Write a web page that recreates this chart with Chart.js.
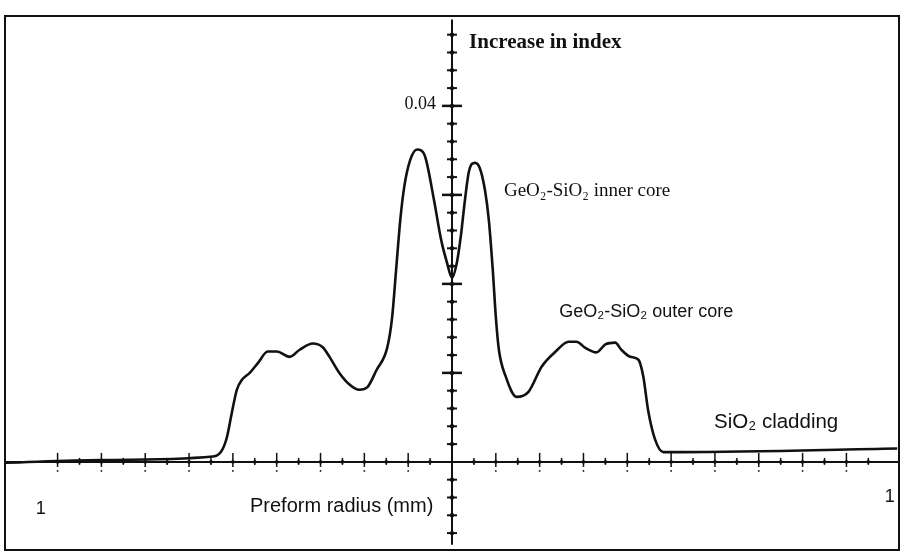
<!DOCTYPE html>
<html>
<head>
<meta charset="utf-8">
<script src="https://cdn.jsdelivr.net/npm/chart.js@4"></script>
<style>
  html, body { margin: 0; padding: 0; background: #fff; }
  #wrap { width: 900px; height: 557px; }
</style>
</head>
<body>
<div id="wrap"><canvas id="myChart"></canvas></div>
<script>
// radius in tick units (one tick on the radius axis), index increase
const radius = [
  -20.36, -16.05, -10.91, -10.5, -10.27, -10.05, -9.82, -9.59, -9.23, -8.86,
  -8.41, -8.0, -7.41, -6.95, -6.36, -5.91, -5.59, -5.14, -4.68, -4.23,
  -3.86, -3.45, -2.95, -2.73, -2.55, -2.36, -2.18, -1.91, -1.59, -1.32,
  -1.18, -0.82, -0.5, -0.23, 0, 0.23, 0.41, 0.59, 0.77, 1.05,
  1.27, 1.5, 1.68, 1.86, 2.0, 2.14, 2.45, 2.95, 3.5, 4.09,
  4.73, 5.32, 5.68, 6.09, 6.59, 7.0, 7.45, 7.73, 8.14, 8.5,
  8.73, 8.95, 9.27, 9.64, 10.45, 20.32
];
const indexIncrease = [
  -0.0001, 0.0002, 0.0006, 0.0013, 0.0028, 0.0055, 0.0081, 0.0092, 0.0100, 0.0111,
  0.0124, 0.0124, 0.0118, 0.0126, 0.0133, 0.0129, 0.0118, 0.0100, 0.0087, 0.0081,
  0.0084, 0.0103, 0.0129, 0.0163, 0.0216, 0.0272, 0.0309, 0.0339, 0.0351, 0.0348,
  0.0339, 0.0294, 0.0250, 0.0224, 0.0207, 0.0225, 0.0255, 0.0294, 0.0326, 0.0336,
  0.0330, 0.0306, 0.0272, 0.0216, 0.0163, 0.0126, 0.0096, 0.0073, 0.0079, 0.0107,
  0.0124, 0.0135, 0.0135, 0.0128, 0.0123, 0.0132, 0.0134, 0.0126, 0.0118, 0.0115,
  0.0096, 0.0058, 0.0025, 0.0011, 0.0011, 0.0015
];

// axis ticks
const yTickStep = 0.002;
const yTickRange = [-0.008, 0.048];
const xTickRange = [-18, 19];
const yTickLabels = ['0.04'];
const yTickLabelValues = [0.04];

const data = radius.map((r, i) => ({ x: r, y: indexIncrease[i] }));

const SERIF = '"Liberation Serif", "DejaVu Serif", serif';
const SANS = '"Liberation Sans", Arial, sans-serif';

const axesPlugin = {
  id: 'figureAxes',
  beforeDatasetsDraw(chart) {
    const { ctx, chartArea: a, scales: { x, y } } = chart;
    ctx.save();
    ctx.strokeStyle = '#111';
    ctx.fillStyle = '#111';

    // frame
    ctx.lineWidth = 2;
    ctx.strokeRect(a.left, a.top, a.right - a.left, a.bottom - a.top);

    const x0 = x.getPixelForValue(0);
    const y0 = y.getPixelForValue(0);

    // axes
    ctx.lineWidth = 2;
    ctx.beginPath();
    ctx.moveTo(x0, y.getPixelForValue(0.0497));
    ctx.lineTo(x0, y.getPixelForValue(-0.0093));
    ctx.stroke();
    ctx.beginPath();
    ctx.moveTo(a.left, y0);
    ctx.lineTo(a.right, y0);
    ctx.stroke();

    // vertical axis ticks
    const nY = Math.round((yTickRange[1] - yTickRange[0]) / yTickStep);
    for (let i = 0; i <= nY; i++) {
      const v = yTickRange[0] + i * yTickStep;
      if (Math.abs(v) < 1e-9) continue;
      const py = y.getPixelForValue(v);
      const major = Math.abs(Math.round(v / 0.01) * 0.01 - v) < 1e-9;
      const w = major ? 10 : 5;
      ctx.lineWidth = major ? 2.5 : 2;
      ctx.beginPath();
      ctx.moveTo(x0 - w, py);
      ctx.lineTo(x0 + w, py);
      ctx.stroke();
      ctx.beginPath();
      ctx.arc(x0, py, 2.2, 0, Math.PI * 2);
      ctx.fill();
    }

    // radius axis ticks
    for (let u = xTickRange[0]; u <= xTickRange[1]; u++) {
      if (u === 0) continue;
      const px = x.getPixelForValue(u);
      const major = u % 2 === 0;
      ctx.lineWidth = 1.5;
      ctx.beginPath();
      ctx.moveTo(px, y0 - (major ? 9 : 4));
      ctx.lineTo(px, y0 + (major ? 5 : 3));
      ctx.stroke();
      ctx.beginPath();
      ctx.arc(px, y0, 1.8, 0, Math.PI * 2);
      ctx.fill();
      if (major) {
        ctx.beginPath();
        ctx.arc(px, y0 + 9, 0.9, 0, Math.PI * 2);
        ctx.fill();
      }
    }
    ctx.restore();
  },
  afterDraw(chart) {
    const { ctx, scales: { x, y } } = chart;
    ctx.save();
    ctx.fillStyle = '#111';
    ctx.textBaseline = 'alphabetic';

    const put = (text, u, v, font, align) => {
      ctx.font = font;
      ctx.textAlign = align || 'left';
      ctx.fillText(text, x.getPixelForValue(u), y.getPixelForValue(v));
    };

    put('Increase in index', 0.78, 0.0465, 'bold 21px ' + SERIF);
    yTickLabels.forEach((t, i) => put(t, -0.73, yTickLabelValues[i] - 0.0004, '18px ' + SERIF, 'right'));
    put('GeO\u2082-SiO\u2082 inner core', 2.37, 0.0299, '19px ' + SERIF);
    put('GeO\u2082-SiO\u2082 outer core', 4.89, 0.0163, '18px ' + SANS);
    put('SiO\u2082 cladding', 11.96, 0.0038, '20.5px ' + SANS);
    put('Preform radius (mm)', -9.22, -0.0056, '20px ' + SANS);
    put('1', -19.0, -0.0058, '18px ' + SANS);
    put('1', 19.75, -0.0045, '18px ' + SANS);
    ctx.restore();
  }
};

const ctx = document.getElementById('myChart');

new Chart(ctx, {
  type: 'scatter',
  data: {
    datasets: [{
      label: 'Increase in index',
      data: data,
      showLine: true,
      borderColor: '#111',
      borderWidth: 2.6,
      pointRadius: 0,
      cubicInterpolationMode: 'monotone',
      fill: false
    }]
  },
  options: {
    responsive: true,
    maintainAspectRatio: false,
    animation: false,
    layout: { padding: { left: 5, top: 16, right: 1, bottom: 7 } },
    plugins: {
      legend: { display: false },
      tooltip: { enabled: false }
    },
    scales: {
      x: { type: 'linear', display: false, min: -20.4, max: 20.4 },
      y: { type: 'linear', display: false, min: -0.0099, max: 0.0501 }
    }
  },
  plugins: [axesPlugin]
});
</script>
</body>
</html>
